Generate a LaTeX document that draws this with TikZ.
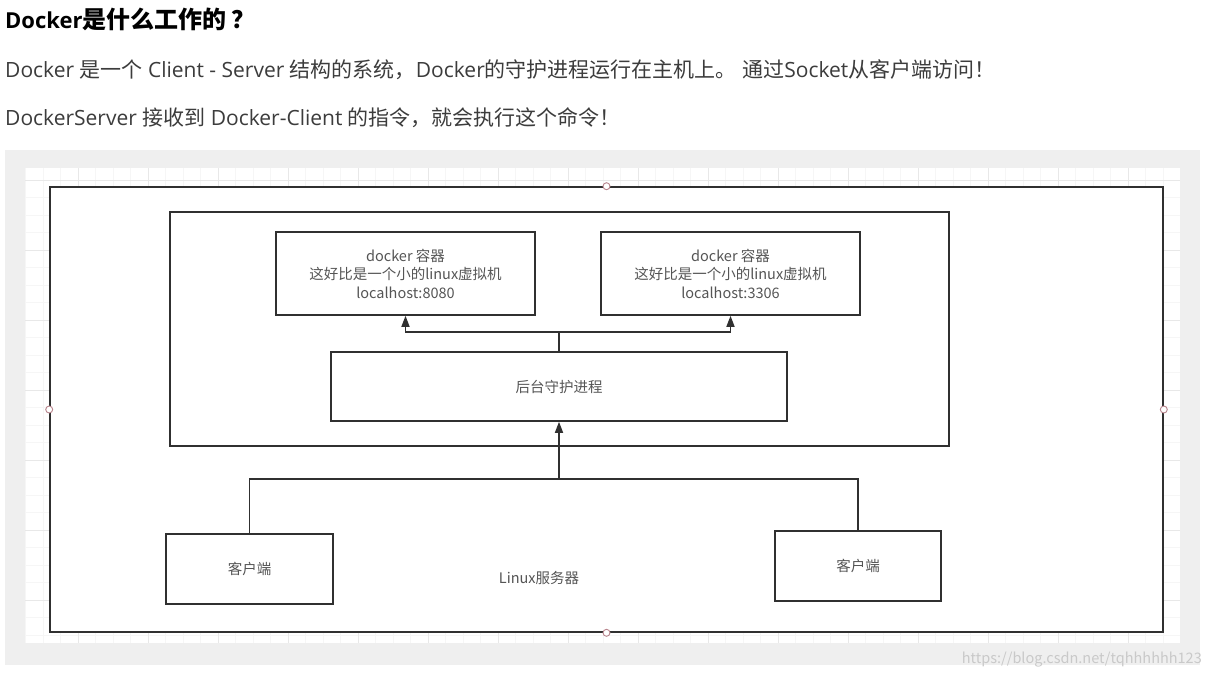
\documentclass[tikz,border=0pt]{standalone}
\usepackage{fontspec}
\setmainfont{Open Sans}
\newfontfamily\cjk{Noto Sans CJK SC}
\usetikzlibrary{arrows.meta,positioning}
\definecolor{ink}{HTML}{303030}
\definecolor{txt}{HTML}{3C3C3C}
\definecolor{diagtxt}{HTML}{555555}
\definecolor{panel}{HTML}{EFEFEF}
\definecolor{gridmajor}{HTML}{E8E8E8}
\definecolor{gridminor}{HTML}{F6F6F6}
\definecolor{handle}{HTML}{B8848C}
\definecolor{wmark}{HTML}{C9C9C9}
\tikzset{
  >={Triangle[length=11pt,width=8pt]},
  box/.style={draw=ink,line width=1.6pt,fill=white,inner sep=0pt,align=center,text=diagtxt,font=\cjk\fontsize{14.5}{18.5}\selectfont},
  link/.style={draw=ink,line width=1.6pt},
  arrow/.style={link,->},
  handledot/.style={circle,draw=handle,fill=white,line width=0.9pt,minimum size=7pt,inner sep=0pt},
  para/.style={anchor=west,inner sep=0pt,text=txt,font=\fontsize{21}{24}\selectfont},
}

\begin{document}
\begin{tikzpicture}[x=1pt,y=-1pt]
  \useasboundingbox[fill=white] (0,0) rectangle (1210,678);

  \node[para,text=black,font=\fontsize{22}{26}\selectfont\bfseries] (title) at (5,19) {Docker{\cjk\fontsize{24}{26}\selectfont 是什么工作的}\hspace{5pt}{\cjk\fontsize{24}{26}\selectfont ？}};
  \node[para] (intro) at (5,70) {Docker {\cjk 是一个} Client - Server {\cjk 结构的系统，}Docker{\cjk 的守护进程运行在主机上。} {\cjk 通过}Socket{\cjk 从客户端访问！}};
  \node[para] (detail) at (5,118) {DockerServer {\cjk 接收到} Docker-Client {\cjk 的指令，就会执行这个命令！}};

  \fill[panel] (5,150) rectangle (1200,665);
  \fill[white] (25,168) rectangle (1180,643);
  \foreach \gx in {25.5,43,...,1180} \draw[gridminor,line width=0.5pt] (\gx,168) -- (\gx,643);
  \foreach \gy in {180,197.5,...,643} \draw[gridminor,line width=0.5pt] (25,\gy) -- (1180,\gy);
  \foreach \gx in {78,148,...,1180} \draw[gridmajor,line width=0.6pt] (\gx,168) -- (\gx,643);
  \foreach \gy in {180,250,...,643} \draw[gridmajor,line width=0.6pt] (25,\gy) -- (1180,\gy);

  \node[box,minimum width=1113pt,minimum height=445pt] (host) at (606.5,409.5) {};
  \node[text=diagtxt,font=\cjk\fontsize{14.5}{16}\selectfont,inner sep=0pt] (hostname) at (539,578) {Linux服务器};

  \node[box,minimum width=779pt,minimum height=234pt] (engine) at (559.5,329) {};
  \node[box,minimum width=259pt,minimum height=83pt] (web) at (405.5,273.5) {docker 容器\\这好比是一个小的linux虚拟机\\localhost:8080};
  \node[box,minimum width=259pt,minimum height=83pt] (db) at (730.5,273.5) {docker 容器\\这好比是一个小的linux虚拟机\\localhost:3306};
  \node[box,minimum width=456pt,minimum height=69pt] (daemon) at (559,386.5) {后台守护进程};
  \draw[arrow] (daemon.north) -- ++(0,-19) -| (web.south);
  \draw[arrow] (daemon.north) -- ++(0,-19) -| (db.south);

  \node[box,minimum width=167pt,minimum height=70pt] (clientA) at (249.5,569) {客户端};
  \node[box,minimum width=166pt,minimum height=70pt] (clientB) at (858,566) {客户端};
  \coordinate (bus) at (559,479);
  \draw[link] (clientA.north) |- (bus) -| (clientB.north);
  \draw[arrow] (bus) -- (daemon.south);

  \node[handledot] (hn) at (host.north) {};
  \node[handledot] (hs) at (host.south) {};
  \node[handledot] (hw) at (host.west) {};
  \node[handledot] (he) at (host.east) {};

  \node[anchor=east,inner sep=0pt,text=wmark,font=\cjk\fontsize{14.5}{16}\selectfont] (watermark) at (1202,660) {https://blog.csdn.net/tqhhhhhh123};
\end{tikzpicture}
\end{document}
